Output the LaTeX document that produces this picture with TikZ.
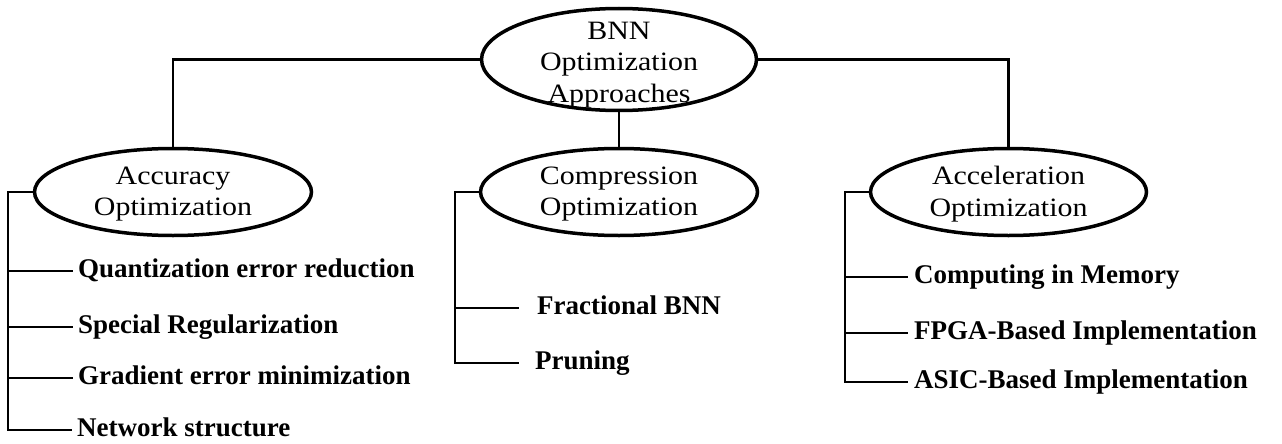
\documentclass[tikz,border=0pt]{standalone}
\usepackage{fontspec}
\setmainfont{Liberation Serif}
\newfontfamily\ovalfont{Liberation Serif}[FakeStretch=1.13]
\usetikzlibrary{shapes.geometric}
\tikzset{
  oval/.style={ellipse, draw, line width=3.5pt, inner sep=0pt},
  otext/.style={font=\ovalfont\fontsize{26.5}{31.5}\selectfont, align=center, inner sep=0pt},
  leaf/.style={font=\bfseries\fontsize{27}{32}\selectfont, inner sep=0pt, anchor=west, text height=18pt, text depth=5pt},
  conn/.style={line width=2.2pt}
}
\begin{document}
\begin{tikzpicture}[x=1pt,y=-1pt]
\useasboundingbox (0,0) rectangle (1282,444);
% ellipses
\node[oval, minimum width=275pt, minimum height=102pt,
  label={[otext, yshift=-5.5pt]center:BNN\\Optimization\\Approaches}] (top) at (619,59.5) {};
\node[oval, minimum width=277pt, minimum height=87pt,
  label={[otext, yshift=-2pt]center:Accuracy\\Optimization}] (acc) at (173,192) {};
\node[oval, minimum width=277pt, minimum height=87pt,
  label={[otext, yshift=-2pt]center:Compression\\Optimization}] (comp) at (619,192) {};
\node[oval, minimum width=276pt, minimum height=87pt,
  label={[otext, yshift=-2pt]center:Acceleration\\Optimization}] (accel) at (1008.5,192) {};
% leaves
\node[leaf] (a1) at (78,271) {Quantization error reduction};
\node[leaf] (a2) at (78,327) {Special Regularization};
\node[leaf] (a3) at (78,378) {Gradient error minimization};
\node[leaf] (a4) at (77,430) {Network structure};
\node[leaf] (c1) at (537,308) {Fractional BNN};
\node[leaf] (c2) at (535,363) {Pruning};
\node[leaf] (s1) at (914,277) {Computing in Memory};
\node[leaf] (s2) at (914,333) {FPGA-Based Implementation};
\node[leaf] (s3) at (914,382) {ASIC-Based Implementation};
% spines
\coordinate (as) at (8,430);
\coordinate (cs) at (455,363);
\coordinate (ss) at (845,382);
% top connectors
\draw[conn] (top.west) -| (acc.north);
\draw[conn] (top.east) -| (accel.north);
\draw[conn] (top.south) -- (comp.north);
% accuracy branch
\draw[conn] (acc.west) -| (as) -- ([xshift=-5pt]a4.west);
\foreach \n in {a1,a2,a3} \draw[conn] (as |- \n.west) -- ([xshift=-5pt]\n.west);
% compression branch
\draw[conn] (comp.west) -| (cs) -- ([xshift=-16pt]c2.west);
\draw[conn] (cs |- c1.west) -- ([xshift=-18pt]c1.west);
% acceleration branch
\draw[conn] (accel.west) -| (ss) -- ([xshift=-6pt]s3.west);
\foreach \n in {s1,s2} \draw[conn] (ss |- \n.west) -- ([xshift=-6pt]\n.west);
\end{tikzpicture}
\end{document}
